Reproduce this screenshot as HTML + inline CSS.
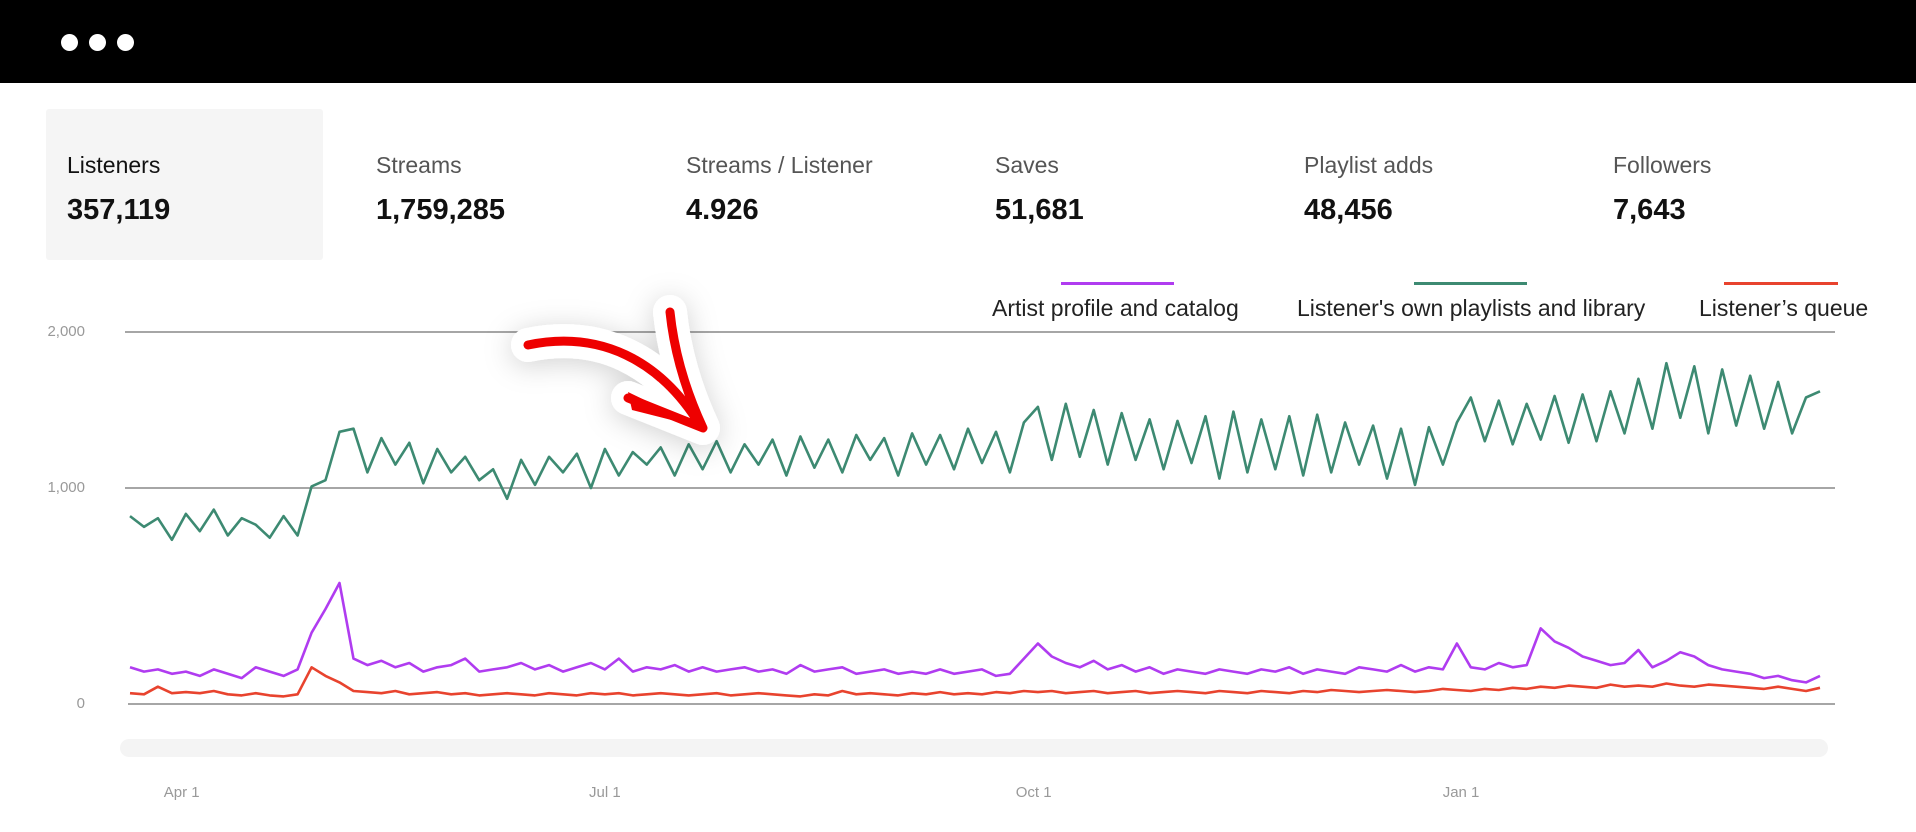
<!DOCTYPE html>
<html><head><meta charset="utf-8"><style>
body{margin:0;width:1916px;height:832px;background:#fff;font-family:"Liberation Sans",sans-serif;overflow:hidden;position:relative}
.hdr{position:absolute;left:0;top:0;width:1916px;height:83px;background:#000}
.dot{position:absolute;top:34px;width:17px;height:17px;border-radius:50%;background:#fff}
.lab{position:absolute;top:152px;font-size:23px;color:#555}
.val{position:absolute;top:194px;font-size:29px;font-weight:bold;color:#111}
.leg{position:absolute;top:295px;font-size:23px;color:#222}
.lline{position:absolute;top:282px;height:3px}
.yt{position:absolute;font-size:15px;color:#999;text-align:right;width:60px;left:25px}
.xt{position:absolute;top:784px;font-size:15px;color:#999;width:80px;text-align:center}
</style></head><body>
<div class="hdr">
<div class="dot" style="left:61px"></div>
<div class="dot" style="left:89px"></div>
<div class="dot" style="left:117px"></div>
</div>
<div style="position:absolute;left:46px;top:109px;width:277px;height:151px;background:#f5f5f5;border-radius:3px"></div>
<div class="lab" style="left:67px;color:#111">Listeners</div>
<div class="val" style="left:67px">357,119</div>
<div class="lab" style="left:376px">Streams</div>
<div class="val" style="left:376px">1,759,285</div>
<div class="lab" style="left:686px">Streams / Listener</div>
<div class="val" style="left:686px">4.926</div>
<div class="lab" style="left:995px">Saves</div>
<div class="val" style="left:995px">51,681</div>
<div class="lab" style="left:1304px">Playlist adds</div>
<div class="val" style="left:1304px">48,456</div>
<div class="lab" style="left:1613px">Followers</div>
<div class="val" style="left:1613px">7,643</div>

<div class="lline" style="left:1061px;width:113px;background:#b03cf0"></div>
<div class="lline" style="left:1414px;width:113px;background:#3d8a72"></div>
<div class="lline" style="left:1724px;width:114px;background:#e8432e"></div>
<div class="leg" style="left:992px">Artist profile and catalog</div>
<div class="leg" style="left:1297px">Listener's own playlists and library</div>
<div class="leg" style="left:1699px">Listener’s queue</div>

<svg id="chart" width="1916" height="832" style="position:absolute;left:0;top:0">
<defs><filter id="sh" x="-50%" y="-50%" width="200%" height="200%"><feDropShadow dx="0" dy="4" stdDeviation="14" flood-color="#000" flood-opacity="0.18"/></filter></defs>
<g id="grid"></g>
<g id="lines"></g>
<rect x="120" y="739" width="1708" height="18" rx="9" fill="#f4f4f4"/>
<g filter="url(#sh)">
<path d="M528,345 C600,330 660,360 700,425 M670,312 C675,360 690,400 703,428 L628,398" fill="none" stroke="#fff" stroke-width="34" stroke-linecap="round" stroke-linejoin="round"/>
<path d="M528,345 C600,330 660,360 700,425 M670,312 C675,360 690,400 703,428 L628,398" fill="none" stroke="#e00" stroke-width="9" stroke-linecap="round" stroke-linejoin="round"/>
<path d="M628,392 L703,428 L632,410 Z" fill="#e00"/>
</g>
</svg>
<script>
const yTicks=[0,1000,2000];
const yTickLabels=["0","1,000","2,000"];
const xTickIdx=[3.7,34,64.7,95.3];
const xTickLabels=["Apr 1","Jul 1","Oct 1","Jan 1"];
const green=[870,820,860,760,880,800,900,780,860,830,770,870,780,
1010,1050,1360,1380,
1100,1320,1150,1290,1030,1250,1100,1200,1050,1120,950,1180,1020,1200,1100,1220,1000,
1250,1080,1230,1150,1260,1080,1280,1120,1300,1100,1280,1150,1310,1080,1330,1130,1310,1100,1340,1180,1320,1080,1350,1150,1340,1120,1380,1160,1360,1100,1420,
1520,1180,1540,1200,1500,1150,1480,1180,1440,1120,1430,1160,1460,1060,1490,1100,1440,1120,1460,1080,1470,1100,1420,1150,1400,1060,1380,1020,1390,1150,1420,
1580,1300,1560,1280,1540,1310,1590,1290,1600,1300,1620,1350,1700,1380,1800,1450,1780,1350,1760,1400,1720,1380,1680,1350,1580,1620];
const purple=[170,150,160,140,150,130,160,140,120,170,150,130,160,
330,440,560,210,
180,200,170,190,150,170,180,210,150,160,170,190,160,180,150,170,190,
160,210,150,170,160,180,150,170,150,160,170,150,160,140,180,150,160,170,140,150,160,140,150,140,160,140,150,160,130,140,210,
280,220,190,170,200,160,180,150,170,140,160,150,140,160,150,140,160,150,170,140,160,150,140,170,160,150,180,150,170,160,280,
170,160,190,170,180,350,290,260,220,200,180,190,250,170,200,240,220,180,160,150,140,120,130,110,100,130];
const red=[50,45,80,50,55,50,60,45,40,50,40,35,45,
170,130,100,60,
55,50,60,45,50,55,45,50,40,45,50,45,40,50,45,40,50,
45,50,40,45,50,45,40,45,50,40,45,50,45,40,35,45,40,60,45,50,45,40,50,45,55,45,50,45,55,50,60,
55,60,50,55,60,50,55,60,50,55,60,55,50,60,55,50,60,55,50,60,55,65,60,55,60,65,60,55,60,70,65,
60,70,65,75,70,80,75,85,80,75,90,80,85,80,95,85,80,90,85,80,75,70,80,70,60,75];
const NS="http://www.w3.org/2000/svg";
const N=green.length;
function xS(i){return 130+i*(1820-130)/(N-1);}
function yS(v){return v<=1000?704-v*0.216:488-(v-1000)*0.156;}
const grid=document.getElementById('grid');
yTicks.forEach((t,k)=>{
  const l=document.createElementNS(NS,'line');
  l.setAttribute('x1',k==0?128:125);l.setAttribute('x2',1835);
  l.setAttribute('y1',yS(t));l.setAttribute('y2',yS(t));
  l.setAttribute('stroke','#888');l.setAttribute('stroke-width','1.5');
  
  
  grid.appendChild(l);
  const d=document.createElement('div');
  d.className='yt';d.style.top=(yS(t)-9)+'px';d.textContent=yTickLabels[k];
  
  
  document.body.appendChild(d);
});
xTickIdx.forEach((t,k)=>{
  const d=document.createElement('div');
  d.className='xt';d.style.left=(xS(t)-40)+'px';d.textContent=xTickLabels[k];
  
  
  document.body.appendChild(d);
});
const lines=document.getElementById('lines');
function draw(arr,color,name){
  const p=document.createElementNS(NS,'path');
  p.setAttribute('d',arr.map((v,i)=>(i?'L':'M')+xS(i).toFixed(1)+','+yS(v).toFixed(1)).join(''));
  p.setAttribute('fill','none');p.setAttribute('stroke',color);p.setAttribute('stroke-width','2.6');
  p.setAttribute('stroke-linejoin','round');
  
  
  lines.appendChild(p);
}
draw(red,'#e8432e','series-queue-line');
draw(purple,'#b03cf0','series-artist-line');
draw(green,'#3d8a72','series-playlists-line');
</script>
</body></html>
